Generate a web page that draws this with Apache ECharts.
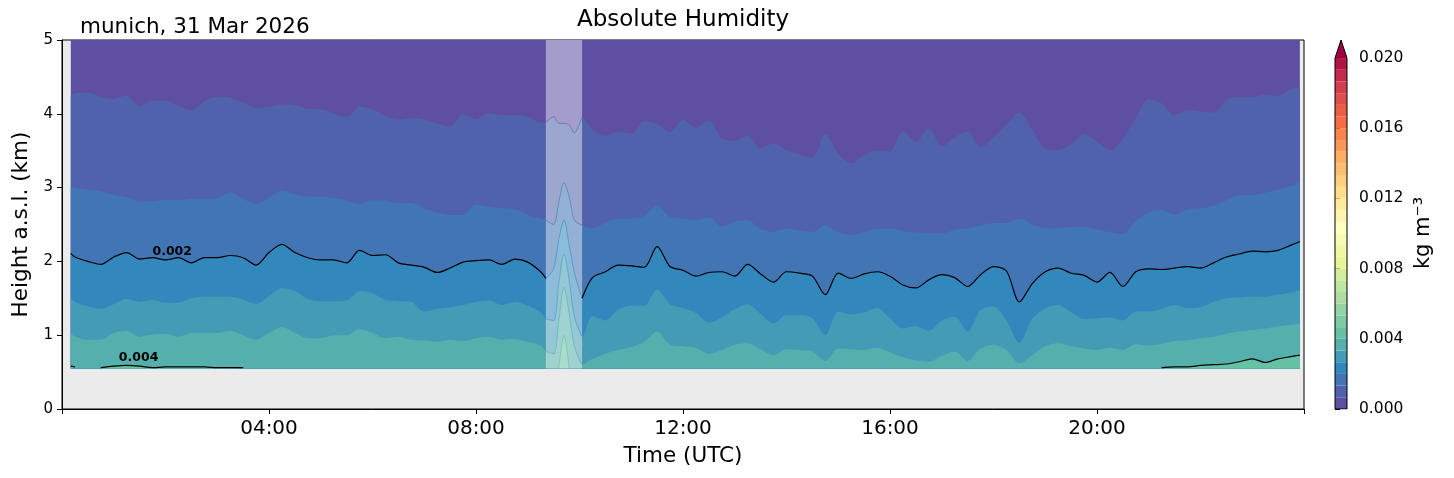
<!DOCTYPE html>
<html>
<head>
<meta charset="utf-8">
<title>Absolute Humidity</title>
<script src="https://cdn.jsdelivr.net/npm/echarts@6/dist/echarts.min.js"></script>
<style>
  html, body { margin: 0; padding: 0; background: #fff; }
  #chart { width: 1454px; height: 478px; }
</style>
</head>
<body>
<div id="chart"></div>
<script>
// profile times, hours UTC
const hours = [
  0.17, 0.25, 0.5, 0.75, 1, 1.25, 1.5, 1.75, 2, 2.25, 2.5, 2.75, 3, 3.25, 3.5, 3.75, 4, 4.25, 4.5, 4.75, 5, 5.25, 5.5, 5.75, 6,
  6.25, 6.5, 6.75, 7, 7.25, 7.5, 7.75, 8, 8.25, 8.5, 8.75, 9, 9.25,
  9.35, 9.5, 9.6, 9.7, 9.8, 9.9, 10.05,
  10.25, 10.5, 10.75, 11, 11.25, 11.5, 11.75, 12,
  12.25, 12.5, 12.75, 13, 13.25, 13.5, 13.75, 14, 14.25, 14.5, 14.75, 15, 15.25, 15.5, 15.75, 16, 16.25, 16.5, 16.75, 17, 17.25, 17.5, 17.75, 18,
  18.25, 18.5, 18.75, 19, 19.25, 19.5, 19.75, 20, 20.25, 20.5, 20.75, 21, 21.25, 21.5, 21.75, 22, 22.25, 22.5, 22.75, 23, 23.25, 23.5, 23.75, 23.92
];

// contour levels (kg m-3), 30 steps of 0.02/30
const levels = [0.000667, 0.001333, 0.002, 0.002667, 0.003333, 0.004];

// height (km) of each level at each time
const iso1 = [
  4.25, 4.28, 4.29, 4.23, 4.20, 4.25, 4.10, 4.18, 4.18, 4.11, 4.05, 4.17, 4.23, 4.22, 4.15, 4.08, 4.10, 4.13, 4.12, 4.07, 4.06, 4.00, 3.96, 4.10, 4.06,
  3.97, 3.92, 3.94, 3.92, 3.87, 3.83, 3.99, 3.93, 4.01, 3.98, 3.98, 3.96, 3.88,
  3.88, 3.96, 3.87, 3.87, 3.85, 3.74, 3.96,
  3.78, 3.70, 3.76, 3.73, 3.90, 3.86, 3.75, 3.92,
  3.81, 3.91, 3.67, 3.63, 3.71, 3.53, 3.60, 3.51, 3.45, 3.40, 3.73, 3.46, 3.33, 3.44, 3.50, 3.49, 3.76, 3.62, 3.80, 3.56, 3.68, 3.76, 3.55, 3.68,
  3.85, 4.01, 3.78, 3.53, 3.51, 3.59, 3.73, 3.62, 3.51, 3.66, 3.94, 4.20, 4.14, 3.98, 4.05, 4.03, 4.01, 4.19, 4.23, 4.22, 4.26, 4.24, 4.34, 4.36
];
const iso2 = [
  3.01, 3.00, 2.97, 2.95, 2.90, 2.87, 2.81, 2.82, 2.84, 2.83, 2.85, 2.85, 2.86, 2.94, 2.85, 2.78, 2.86, 2.96, 2.91, 2.88, 2.88, 2.86, 2.83, 2.78, 2.83,
  2.83, 2.79, 2.79, 2.72, 2.66, 2.63, 2.63, 2.77, 2.74, 2.72, 2.71, 2.63, 2.58,
  2.56, 2.50, 2.80, 3.07, 2.88, 2.56, 2.49,
  2.45, 2.52, 2.58, 2.58, 2.62, 2.76, 2.60, 2.58,
  2.56, 2.60, 2.47, 2.54, 2.56, 2.44, 2.40, 2.45, 2.42, 2.40, 2.49, 2.40, 2.36, 2.40, 2.44, 2.45, 2.41, 2.39, 2.38, 2.38, 2.43, 2.45, 2.49, 2.52,
  2.52, 2.58, 2.50, 2.45, 2.45, 2.47, 2.47, 2.43, 2.40, 2.37, 2.55, 2.67, 2.70, 2.63, 2.71, 2.72, 2.75, 2.83, 2.90, 2.90, 2.93, 2.97, 3.02, 3.08
];
const iso3 = [
  2.11, 2.06, 2.00, 1.96, 2.06, 2.12, 2.03, 2.05, 2.02, 2.05, 1.98, 2.05, 2.05, 2.08, 2.05, 1.95, 2.12, 2.23, 2.12, 2.05, 2.02, 2.02, 1.98, 2.15, 2.08,
  2.09, 1.98, 1.95, 1.92, 1.85, 1.91, 1.99, 2.01, 2.02, 1.96, 2.03, 1.99, 1.86,
  1.77, 1.90, 2.30, 2.56, 2.22, 1.85, 1.50,
  1.78, 1.86, 1.95, 1.94, 1.92, 2.20, 1.93, 1.88,
  1.80, 1.85, 1.86, 1.80, 1.96, 1.83, 1.72, 1.86, 1.84, 1.80, 1.55, 1.84, 1.77, 1.83, 1.86, 1.80, 1.68, 1.64, 1.75, 1.82, 1.78, 1.66, 1.82, 1.93,
  1.87, 1.45, 1.70, 1.86, 1.91, 1.84, 1.81, 1.72, 1.85, 1.66, 1.86, 1.90, 1.89, 1.91, 1.93, 1.91, 1.98, 2.06, 2.10, 2.14, 2.13, 2.15, 2.22, 2.27
];
const iso4 = [
  1.50, 1.45, 1.39, 1.36, 1.42, 1.49, 1.45, 1.48, 1.44, 1.44, 1.50, 1.52, 1.52, 1.52, 1.48, 1.42, 1.53, 1.64, 1.60, 1.49, 1.46, 1.46, 1.47, 1.60, 1.57,
  1.48, 1.46, 1.45, 1.32, 1.36, 1.38, 1.41, 1.45, 1.47, 1.41, 1.45, 1.40, 1.31,
  1.22, 1.20, 1.70, 2.10, 1.75, 1.25, 0.98,
  1.26, 1.20, 1.35, 1.40, 1.40, 1.62, 1.42, 1.37,
  1.30, 1.17, 1.24, 1.35, 1.42, 1.29, 1.16, 1.27, 1.27, 1.23, 1.00, 1.32, 1.28, 1.31, 1.37, 1.23, 1.09, 1.12, 1.06, 1.20, 1.25, 1.05, 1.34, 1.39,
  1.20, 0.90, 1.22, 1.37, 1.41, 1.31, 1.22, 1.23, 1.24, 1.20, 1.32, 1.32, 1.36, 1.41, 1.37, 1.38, 1.45, 1.50, 1.51, 1.52, 1.52, 1.55, 1.58, 1.61
];
const iso5 = [
  1.03, 0.98, 0.94, 0.94, 1.03, 1.06, 0.98, 1.01, 1.02, 0.98, 1.03, 1.03, 1.03, 1.06, 1.00, 0.94, 1.03, 1.11, 1.03, 0.96, 0.96, 1.00, 1.00, 1.08, 1.03,
  0.96, 0.98, 0.94, 0.93, 0.91, 0.94, 0.92, 0.96, 0.98, 0.94, 0.95, 0.91, 0.86,
  0.78, 0.75, 1.20, 1.65, 1.30, 0.85, 0.60,
  0.68, 0.75, 0.80, 0.84, 0.91, 1.05, 0.87, 0.85,
  0.83, 0.75, 0.80, 0.87, 0.89, 0.81, 0.73, 0.81, 0.80, 0.78, 0.65, 0.82, 0.81, 0.80, 0.83, 0.77, 0.70, 0.66, 0.64, 0.72, 0.78, 0.65, 0.82, 0.87,
  0.80, 0.62, 0.73, 0.85, 0.89, 0.85, 0.82, 0.80, 0.83, 0.80, 0.88, 0.86, 0.88, 0.92, 0.93, 0.96, 0.98, 1.02, 1.05, 1.07, 1.09, 1.12, 1.14, 1.16
];
const iso6 = [
  0.58, 0.57, null, 0.56, 0.58, 0.59, 0.58, 0.56, 0.57, 0.57, 0.57, 0.57, 0.56, 0.56, 0.56, null, null, null, null, null, null, null, null, null, null,
  null, null, null, null, null, null, null, null, null, null, null, null, null,
  null, null, 0.55, 1.00, 0.55, null, null,
  null, null, null, null, null, null, null, null,
  null, null, null, null, null, null, null, null, null, null, null, null, null, null, null, null, null, null, null, null, null, null, null, null,
  null, null, null, null, null, null, null, null, null, null, 0.56, null, 0.56, 0.57, 0.57, 0.59, 0.60, 0.61, 0.64, 0.68, 0.63, 0.68, 0.71, 0.73
];
const isoHeights = [iso1, iso2, iso3, iso4, iso5, iso6];

// lowest range gate and top of the profile (km)
const dataBottom = 0.55;
const dataTop = 5;
// period with interpolated (missing) data
const gapStart = 9.35;
const gapEnd = 10.05;

// labelled black contours and where their labels sit
const labelledLevels = ['0.002', '0.004'];
const labelledIndex = [2, 5];
const labelTimes = [2.13, 1.48];
const labelHeights = [2.13, 0.69];

// colour bar
const cbMax = 0.02;
const cbSteps = 30;
const cbTicks = [0, 0.004, 0.008, 0.012, 0.016, 0.020];
const xTicks = [4, 8, 12, 16, 20];

// Spectral_r
const spectralR = ['#5e4fa2', '#3288bd', '#66c2a5', '#abdda4', '#e6f598', '#ffffbf',
                   '#fee08b', '#fdae61', '#f46d43', '#d53e4f', '#9e0142'];

function hexToRgb(h) {
    return [1, 3, 5].map(i => parseInt(h.substr(i, 2), 16));
}
function cmap(t) {
    const x = Math.max(0, Math.min(1, t)) * 10;
    const i = Math.min(9, Math.floor(x));
    const f = x - i;
    const a = hexToRgb(spectralR[i]), b = hexToRgb(spectralR[i + 1]);
    const c = a.map((v, k) => Math.round(v + (b[k] - v) * f));
    return 'rgb(' + c.join(',') + ')';
}
const bandColor = i => cmap(i / cbSteps);

const FONT = 'DejaVu Sans';
const inGap = t => t >= gapStart && t <= gapEnd;
const outGap = t => !(t > gapStart && t < gapEnd);

function pairs(vals, keep) {
    return hours.map((t, i) => [t, (vals[i] == null || !keep(t)) ? '-' : vals[i]]);
}

const chart = echarts.init(document.getElementById('chart'));

const series = [];

// lowest humidity band, everything above the first contour
series.push({
    type: 'line', data: [], z: 1, silent: true,
    markArea: {
        silent: true, z: 1,
        itemStyle: { color: bandColor(0) },
        data: [[{ xAxis: hours[0], yAxis: dataBottom }, { xAxis: hours[hours.length - 1], yAxis: dataTop }]]
    }
});

// filled bands, each one painted down to the lowest gate
isoHeights.forEach((vals, k) => {
    series.push({
        type: 'line', z: 2, silent: true,
        data: pairs(vals, () => true),
        showSymbol: false, symbol: 'none', smooth: 0.3,
        lineStyle: { width: 0 },
        areaStyle: { color: bandColor(k + 1), opacity: 1, origin: dataBottom }
    });
});

// white veil over the gap
series.push({
    type: 'line', data: [], z: 3, silent: true,
    markArea: {
        silent: true, z: 3,
        itemStyle: { color: 'rgba(255,255,255,0.44)' },
        data: [[{ xAxis: gapStart, yAxis: dataBottom }, { xAxis: gapEnd, yAxis: dataTop }]]
    }
});

// thin band edges inside the gap
isoHeights.forEach((vals, k) => {
    series.push({
        type: 'line', z: 4, silent: true,
        data: pairs(vals, inGap),
        showSymbol: false, symbol: 'none', smooth: 0.3,
        lineStyle: { color: bandColor(k + 1), width: 1, opacity: 0.6 }
    });
});

// black labelled contours
labelledIndex.forEach((idx, j) => {
    series.push({
        type: 'line', z: 5, silent: true,
        data: pairs(isoHeights[idx], outGap),
        showSymbol: false, symbol: 'none', smooth: 0.3,
        lineStyle: { color: '#000', width: 1.2 },
        markPoint: {
            silent: true, symbol: 'circle', symbolSize: 0,
            label: {
                show: true, position: 'inside', color: '#000',
                fontFamily: FONT, fontWeight: 'bold', fontSize: 12.5,
                formatter: p => p.name
            },
            data: [{ name: labelledLevels[j], coord: [labelTimes[j], labelHeights[j]] }]
        }
    });
});

// colour bar bands
const cbStep = cbMax / cbSteps;
const cbBands = [];
for (let i = 0; i < cbSteps; i++) {
    cbBands.push([
        { xAxis: 0, yAxis: i * cbStep, itemStyle: { color: bandColor(i) } },
        { xAxis: 1, yAxis: (i + 1) * cbStep }
    ]);
}
const cbTip = cbMax * 1.0515;
series.push({
    type: 'line', data: [], xAxisIndex: 1, yAxisIndex: 1, silent: true,
    markArea: { silent: true, data: cbBands }
});
series.push({
    type: 'line', xAxisIndex: 1, yAxisIndex: 1, silent: true, z: 3,
    data: [[0, cbMax], [0.5, cbTip], [1, cbMax]],
    showSymbol: false, symbol: 'none',
    lineStyle: { width: 0 },
    areaStyle: { color: cmap(1), opacity: 1, origin: cbMax }
});
series.push({
    type: 'line', xAxisIndex: 1, yAxisIndex: 1, silent: true, z: 4,
    data: [[0, 0], [1, 0], [1, cbMax], [0.5, cbTip], [0, cbMax], [0, 0]],
    showSymbol: false, symbol: 'none',
    lineStyle: { color: '#000', width: 1 }
});

const option = {
    animation: false,
    backgroundColor: '#fff',
    textStyle: { fontFamily: FONT },
    grid: [
        { left: 62, width: 1242, top: 40, bottom: 69, show: true,
          backgroundColor: '#ebebeb', borderColor: '#000', borderWidth: 1 },
        { left: 1335, width: 12, top: 40, bottom: 69, show: false }
    ],
    xAxis: [
        {
            type: 'value', gridIndex: 0, min: 0, max: 24, interval: 4,
            axisLine: { show: true, lineStyle: { color: '#000', width: 1 } },
            axisTick: { show: true, length: 5, inside: false, lineStyle: { color: '#000' } },
            axisLabel: {
                color: '#000', fontSize: 20, margin: 10,
                customValues: xTicks,
                formatter: v => (v < 10 ? '0' : '') + v + ':00'
            },
            splitLine: { show: false },
            name: 'Time (UTC)', nameLocation: 'middle', nameGap: 36,
            nameTextStyle: { color: '#000', fontSize: 21.5 }
        },
        { type: 'value', gridIndex: 1, min: 0, max: 1, show: false }
    ],
    yAxis: [
        {
            type: 'value', gridIndex: 0, min: 0, max: 5, interval: 1,
            axisLine: { show: true, lineStyle: { color: '#000', width: 1 } },
            axisTick: { show: true, length: 5, inside: false, lineStyle: { color: '#000' } },
            axisLabel: { color: '#000', fontSize: 15, margin: 9 },
            splitLine: { show: false },
            name: 'Height a.s.l. (km)', nameLocation: 'middle', nameGap: 30,
            nameTextStyle: { color: '#000', fontSize: 21.5 }
        },
        {
            type: 'value', gridIndex: 1, min: 0, max: cbTip, position: 'right',
            axisLine: { show: false },
            axisTick: { show: true, length: 5, inside: false, customValues: cbTicks,
                        lineStyle: { color: '#000' } },
            axisLabel: { color: '#000', fontSize: 15.5, margin: 12, customValues: cbTicks,
                         formatter: v => v.toFixed(3) },
            splitLine: { show: false }
        }
    ],
    graphic: [
        { type: 'text', x: 683, y: 20, silent: true,
          style: { text: 'Absolute Humidity', fontSize: 23, fontFamily: FONT, fill: '#000',
                   align: 'center', verticalAlign: 'middle', textAlign: 'center', textVerticalAlign: 'middle' } },
        { type: 'text', x: 80, y: 27, silent: true,
          style: { text: 'munich, 31 Mar 2026', fontSize: 21.5, fontFamily: FONT, fill: '#000',
                   align: 'left', verticalAlign: 'middle', textAlign: 'left', textVerticalAlign: 'middle' } },
        { type: 'text', x: 1424, y: 233, rotation: Math.PI / 2, silent: true,
          style: { text: 'kg m\u207B\u00B3', fontSize: 21, fontFamily: FONT, fill: '#000',
                   align: 'center', verticalAlign: 'middle', textAlign: 'center', textVerticalAlign: 'middle' } }
    ],
    series: series
};

chart.setOption(option);
</script>
</body>
</html>
